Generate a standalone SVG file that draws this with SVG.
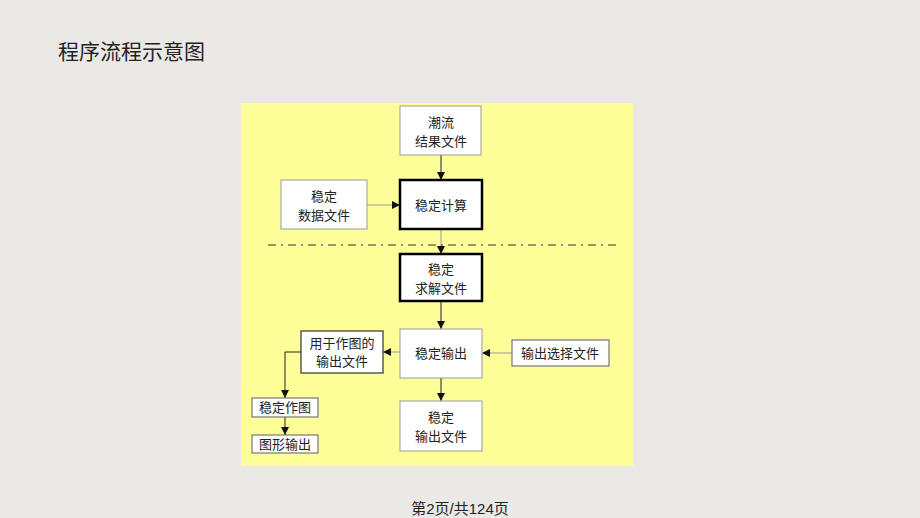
<svg xmlns="http://www.w3.org/2000/svg" width="920" height="518" viewBox="0 0 920 518">
<style>
text{font-family:"Liberation Sans","Noto Sans CJK SC",sans-serif;fill:#222}
.t{font-size:13px;text-anchor:middle}
.g{fill:#fff;stroke:#999;stroke-width:1}
.k{fill:#fff;stroke:#000;stroke-width:2.5}
.b{fill:#fff;stroke:#333;stroke-width:1.2}
.c{stroke:#222;stroke-width:1;fill:none;marker-end:url(#a)}
</style>
<defs><marker id="a" viewBox="0 0 10 10" refX="10" refY="5" markerWidth="8" markerHeight="8" markerUnits="userSpaceOnUse" orient="auto"><path d="M0,0L10,5L0,10z" fill="#111"/></marker></defs>
<rect width="920" height="518" fill="#ebe9e6"/>
<text x="58" y="59" style="font-size:21px">程序流程示意图</text>
<rect x="241" y="103" width="392" height="363" fill="#ffff99"/>
<g id="connectors">
<line class="c" x1="441" y1="155" x2="441" y2="180"/>
<line class="c" x1="367" y1="205" x2="400" y2="205" style="stroke:#999"/>
<line class="c" x1="441" y1="229" x2="441" y2="254" style="stroke:#999"/>
<line x1="268" y1="245" x2="618" y2="245" stroke="#333" stroke-width="1" stroke-dasharray="8,5,2,5"/>
<line class="c" x1="441" y1="301" x2="441" y2="329"/>
<line class="c" x1="400" y1="352" x2="383" y2="352" style="stroke:#999"/>
<line class="c" x1="512" y1="353" x2="482" y2="353" style="stroke:#999"/>
<line class="c" x1="441" y1="378" x2="441" y2="401"/>
<polyline class="c" points="301,352 285,352 285,398"/>
<line class="c" x1="285" y1="417" x2="285" y2="435"/>
</g>
<g id="n1"><rect class="g" x="400" y="106" width="81" height="49"/><text class="t" x="441" y="127">潮流</text><text class="t" x="441" y="146">结果文件</text></g>
<g id="n2"><rect class="g" x="281" y="180" width="86" height="49"/><text class="t" x="324" y="201">稳定</text><text class="t" x="324" y="220">数据文件</text></g>
<g id="n3"><rect class="k" x="400" y="180" width="82" height="49"/><text class="t" x="441" y="210">稳定计算</text></g>
<g id="n4"><rect class="k" x="400" y="254" width="82" height="47"/><text class="t" x="441" y="274">稳定</text><text class="t" x="441" y="293">求解文件</text></g>
<g id="n5"><rect class="g" x="400" y="329" width="82" height="49"/><text class="t" x="441" y="358">稳定输出</text></g>
<g id="n6"><rect class="b" x="301" y="331" width="82" height="42"/><text class="t" x="342" y="348">用于作图的</text><text class="t" x="342" y="366">输出文件</text></g>
<g id="n7"><rect class="b" x="512" y="340" width="97" height="26" style="stroke:#777"/><text class="t" x="560" y="358">输出选择文件</text></g>
<g id="n8"><rect class="b" x="252" y="398" width="66" height="19" style="stroke:#777"/><text class="t" x="285" y="412">稳定作图</text></g>
<g id="n9"><rect class="b" x="252" y="435" width="66" height="18" style="stroke:#777"/><text class="t" x="285" y="449">图形输出</text></g>
<g id="n10"><rect class="g" x="400" y="401" width="82" height="50"/><text class="t" x="441" y="422">稳定</text><text class="t" x="441" y="441">输出文件</text></g>
<text x="460" y="514" style="font-size:15px;text-anchor:middle">第2页/共124页</text>
</svg>
